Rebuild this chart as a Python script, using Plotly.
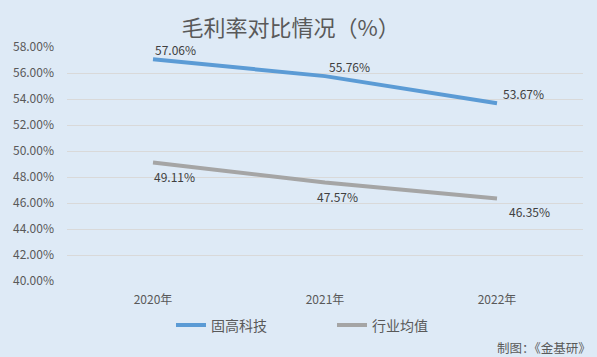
import plotly.graph_objects as go

years = ["2020年", "2021年", "2022年"]
gugao = [57.06, 55.76, 53.67]
industry = [49.11, 47.57, 46.35]
series_names = ["固高科技", "行业均值"]
title_text = "毛利率对比情况（%）"
source_text = "制图：《金基研》"

FONT = "Noto Sans CJK SC, Microsoft YaHei, sans-serif"
BG = "#DEEAF6"
TXT = "#595959"

fig = go.Figure()
fig.add_trace(go.Scatter(x=years, y=gugao, name=series_names[0], mode="lines",
                         line=dict(color="#5B9BD5", width=4)))
fig.add_trace(go.Scatter(x=years, y=industry, name=series_names[1], mode="lines",
                         line=dict(color="#A5A5A5", width=4)))

for i, (x, v) in enumerate(zip(years, gugao)):
    fig.add_annotation(x=x, y=v, text=f"{v:.2f}%", showarrow=False, xanchor="left",
                       yanchor="bottom", xshift=[0, 2, 4][i], yshift=-1,
                       font=dict(size=12, color="#404040", family=FONT))
for i, (x, v) in enumerate(zip(years, industry)):
    fig.add_annotation(x=x, y=v, text=f"{v:.2f}%", showarrow=False, xanchor="left",
                       yanchor="top", xshift=[-1, -10, 10][i], yshift=-3,
                       font=dict(size=12, color="#404040", family=FONT))

fig.add_annotation(text=source_text, xref="paper", yref="paper", x=1.0, y=0,
                   xanchor="right", yanchor="middle", yshift=-66, xshift=10,
                   showarrow=False, font=dict(size=12.5, color=TXT, family=FONT))

fig.update_layout(
    width=597, height=357,
    paper_bgcolor=BG, plot_bgcolor=BG,
    margin=dict(l=67, r=14, t=47, b=76),
    title=dict(text=title_text, x=0.487, xanchor="center", y=0.922, yanchor="middle",
               font=dict(size=22, color=TXT, family=FONT)),
    font=dict(family=FONT, color=TXT, size=12),
    showlegend=True,
    legend=dict(orientation="h", x=(171 - 67) / 516, xanchor="left", y=-0.19, yanchor="middle",
                font=dict(size=14, color=TXT, family=FONT), bgcolor="rgba(0,0,0,0)",
                entrywidth=116, entrywidthmode="pixels", tracegroupgap=0),
    xaxis=dict(range=[-0.5, 2.5], showgrid=False, showline=False, zeroline=False, ticks="",
               tickfont=dict(size=12, color=TXT), ticklabelstandoff=10),
    yaxis=dict(range=[40, 58], dtick=2, tick0=40, ticksuffix="%", tickformat=".2f",
               showgrid=True, gridcolor="#D9D9D9", gridwidth=1, zeroline=False,
               showline=False, ticks="", tickfont=dict(size=12, color=TXT),
               ticklabelstandoff=12),
)

fig.write_html("out.html", config={"displayModeBar": False},
               post_script="document.body.style.margin='0';document.body.style.background='#DEEAF6';")
